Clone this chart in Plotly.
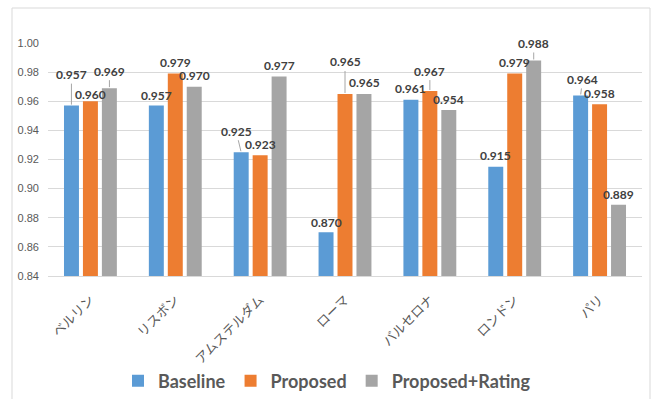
import plotly.graph_objects as go

# City names (x categories)
cities = ["ベルリン", "リスボン", "アムステルダム", "ローマ", "バルセロナ", "ロンドン", "パリ"]

# Scores per method
baseline = [0.957, 0.957, 0.925, 0.870, 0.961, 0.915, 0.964]
proposed = [0.960, 0.979, 0.923, 0.965, 0.967, 0.979, 0.958]
proposed_rating = [0.969, 0.970, 0.977, 0.965, 0.954, 0.988, 0.889]

series_names = ["Baseline", "Proposed", "Proposed+Rating"]
series_values = [baseline, proposed, proposed_rating]
colors = ["#5B9BD5", "#ED7D31", "#A5A5A5"]

# Y axis ticks
y_ticks = [0.84, 0.86, 0.88, 0.90, 0.92, 0.94, 0.96, 0.98, 1.00]

# Label placement (pixels): horizontal shift of each series within its group,
# and per-label vertical lift above the bar top; leader lines where lifted far.
series_shift = [-19, 0, 19]
label_lift = [
    [-30, -10, -20, -10, -11, -11, -15],
    [-7, -11, -11, -31, -19, -11, -11],
    [-16, -11, -11, -11, -10, -16, -10],
]
label_nudge = [
    [0, 0, -5, 0, 0, 0, 2],
    [0, 0, 0, 0, 0, 0, 0],
    [0, 0, 0, 0, 0, 0, 0],
]
leader = [
    [True, False, True, False, False, False, True],
    [False, False, False, True, True, False, False],
    [True, False, False, False, False, True, False],
]

fig = go.Figure()
for name, vals, col in zip(series_names, series_values, colors):
    fig.add_trace(go.Bar(x=cities, y=vals, name=name, marker_color=col,
                         marker_line_width=0))

annotations = []
for s, vals in enumerate(series_values):
    for i, v in enumerate(vals):
        common = dict(x=cities[i], y=v, xref="x", yref="y",
                      text=f"{v:.3f}",
                      font=dict(family="Lato", size=12, color="#404040", weight="bold"))
        if leader[s][i]:
            annotations.append(dict(**common, showarrow=True, arrowhead=0,
                                    arrowwidth=1, arrowcolor="#A6A6A6",
                                    ax=label_nudge[s][i], ay=label_lift[s][i] - 1,
                                    xshift=series_shift[s], standoff=1))
        else:
            annotations.append(dict(**common, showarrow=False,
                                    xshift=series_shift[s] + label_nudge[s][i],
                                    yshift=-label_lift[s][i]))

fig.update_layout(
    width=654, height=399,
    margin=dict(l=48, r=12, t=43, b=123, autoexpand=False),
    paper_bgcolor="white", plot_bgcolor="white",
    barmode="group", bargap=0.33, bargroupgap=0.21,
    annotations=annotations,
    showlegend=True,
    legend=dict(orientation="h", xref="container", yref="container",
                x=0.5, y=0.045, xanchor="center", yanchor="middle",
                font=dict(family="Lato", size=18, color="#595959", weight="bold"),
                itemwidth=30, traceorder="normal"),
    font=dict(family="Liberation Sans", color="#595959"),
)

fig.update_yaxes(range=[0.84, 1.00], tickvals=y_ticks,
                 ticktext=[f"{t:.2f}" for t in y_ticks],
                 showgrid=True, gridcolor="#D9D9D9", gridwidth=1,
                 zeroline=False, showline=False, ticks="", automargin=False,
                 ticklabelstandoff=8,
                 tickfont=dict(family="Liberation Sans", size=11, color="#595959"))
fig.update_xaxes(showline=True, linecolor="#D9D9D9", linewidth=1, ticks="",
                 tickangle=-45, ticklabelstandoff=10, automargin=False,
                 tickfont=dict(family="Noto Sans CJK JP", size=13, color="#595959"))

# Light frame around the chart area (open at the bottom edge)
fig.add_shape(type="rect", xref="paper", yref="paper",
              x0=(12 - 48) / 594, x1=(650 - 48) / 594,
              y0=(276 - 420) / 233, y1=(276 - 8) / 233,
              line=dict(color="#D9D9D9", width=1), fillcolor="rgba(0,0,0,0)",
              layer="below")

fig.write_html("out.html")
